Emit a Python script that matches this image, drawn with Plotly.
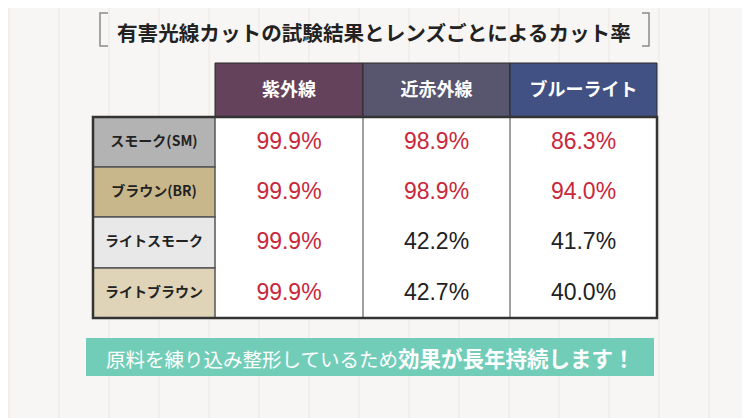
import plotly.graph_objects as go

# --- data ---------------------------------------------------------------
title = "有害光線カットの試験結果とレンズごとによるカット率"
columns = ["紫外線", "近赤外線", "ブルーライト"]
lenses = ["スモーク(SM)", "ブラウン(BR)", "ライトスモーク", "ライトブラウン"]
uv = [99.9, 99.9, 99.9, 99.9]
near_ir = [98.9, 98.9, 42.2, 42.7]
blue_light = [86.3, 94.0, 41.7, 40.0]
note_plain = "原料を練り込み整形しているため"
note_bold = "効果が長年持続します！"

# --- layout (pixel space of the window, y grows downward) ---------------
W, H = 750, 418
OFF = 8  # page body margin
col_edges = [93, 215, 363, 510, 657]
row_edges = [117, 167, 217, 268, 318]
head_top = 63
head_colors = ["#65425b", "#58566f", "#415183"]
lens_colors = ["#b3b3b3", "#c9b78c", "#e8e8e8", "#dfd3b8"]
RED, INK = "#c9283b", "#222222"
JP = "Noto Sans CJK JP"

series = [uv, near_ir, blue_light]

shapes = []

# faint wood planks in the background
for px in range(9, W + OFF, 50):
    shapes.append(dict(type="line", x0=px, x1=px, y0=0, y1=H + OFF,
                       line=dict(color="rgba(210,185,165,0.25)", width=1), layer="below"))

# header cells
for j in range(len(columns)):
    shapes.append(dict(type="rect", x0=col_edges[j + 1], x1=col_edges[j + 2],
                       y0=head_top, y1=row_edges[0], layer="below",
                       fillcolor=head_colors[j], line=dict(color="#2b2b2b", width=1)))

# body background (white) and lens label cells
shapes.append(dict(type="rect", x0=col_edges[1], x1=col_edges[-1],
                   y0=row_edges[0], y1=row_edges[-1], layer="below",
                   fillcolor="white", line=dict(width=0)))
for i in range(len(lenses)):
    shapes.append(dict(type="rect", x0=col_edges[0], x1=col_edges[1],
                       y0=row_edges[i], y1=row_edges[i + 1], layer="below",
                       fillcolor=lens_colors[i], line=dict(color="#555555", width=1.5)))

# vertical dividers between value columns
for px in col_edges[2:-1]:
    shapes.append(dict(type="line", x0=px, x1=px, y0=row_edges[0], y1=row_edges[-1],
                       layer="below", line=dict(color="#444444", width=1)))

# thick outer border of the body
shapes.append(dict(type="rect", x0=col_edges[0], x1=col_edges[-1],
                   y0=row_edges[0], y1=row_edges[-1], layer="below",
                   line=dict(color="#333333", width=2.5)))

# title brackets
shapes.append(dict(type="path", path="M 108 13 L 100 13 L 100 46 L 108 46",
                   line=dict(color="#8a8a8a", width=1.5)))
shapes.append(dict(type="path", path="M 642 13 L 649 13 L 649 46 L 642 46",
                   line=dict(color="#8a8a8a", width=1.5)))

# green banner
shapes.append(dict(type="rect", x0=86, x1=654, y0=338, y1=376, layer="below",
                   fillcolor="#72cdb8", line=dict(width=0)))

fig = go.Figure()

# column headers
hx = [(col_edges[j + 1] + col_edges[j + 2]) / 2 for j in range(len(columns))]
fig.add_trace(go.Scatter(
    x=hx, y=[(head_top + row_edges[0]) / 2 + 1] * len(columns),
    mode="text", text=columns,
    textfont=dict(family=JP, size=18, color="white", weight="bold"),
    hoverinfo="skip", showlegend=False,
))

# lens labels
ry = [(row_edges[i] + row_edges[i + 1]) / 2 for i in range(len(lenses))]
fig.add_trace(go.Scatter(
    x=[(col_edges[0] + col_edges[1]) / 2] * len(lenses), y=ry,
    mode="text", text=lenses,
    textfont=dict(family=JP, size=14, color=INK, weight="bold"),
    hoverinfo="skip", showlegend=False,
))

# cut-rate values
vx, vy, vt, vc = [], [], [], []
for j, vals in enumerate(series):
    for i, v in enumerate(vals):
        vx.append(hx[j])
        vy.append(ry[i] + 1)
        vt.append(f"{v:.1f}%")
        vc.append(RED if v > 50 else INK)
fig.add_trace(go.Scatter(
    x=vx, y=vy, mode="text", text=vt,
    textfont=dict(family="Liberation Sans", size=23, color=vc),
    hoverinfo="skip", showlegend=False,
))

fig.update_layout(
    width=W, height=H,
    margin=dict(l=0, r=0, t=0, b=0),
    paper_bgcolor="#f8f6f4",
    plot_bgcolor="#f8f6f4",
    xaxis=dict(range=[OFF, W + OFF], visible=False, fixedrange=True),
    yaxis=dict(range=[H + OFF, OFF], visible=False, fixedrange=True),
    shapes=shapes,
    annotations=[
        dict(x=374, y=32, xref="x", yref="y", showarrow=False,
             text=f"<b>{title}</b>",
             font=dict(family=JP, size=20.6, color=INK)),
        dict(x=370, y=357, xref="x", yref="y", showarrow=False,
             text=(f"<span style='font-size:19.5px'>{note_plain}</span>"
                   f"<b style='font-size:21.5px'>{note_bold}</b>"),
             font=dict(family=JP, size=19.5, color="white")),
    ],
)

fig.write_html("out.html")
